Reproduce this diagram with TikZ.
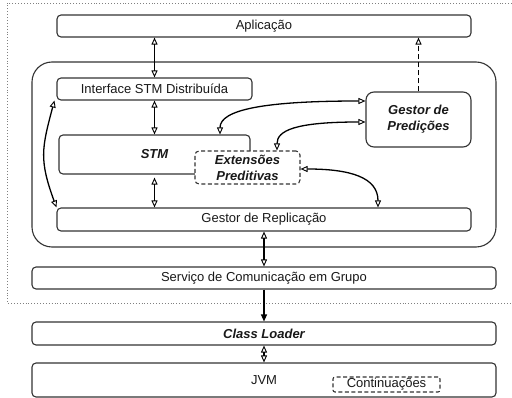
\documentclass[tikz,border=0pt]{standalone}
\usepackage{fontspec}
\setmainfont{Liberation Sans}
\usetikzlibrary{arrows.meta}

\definecolor{boxgray}{HTML}{333333}

\begin{document}
\begin{tikzpicture}[x=1pt, y=-1pt, font=\fontsize{13}{15}\selectfont,
		bfit/.style={font=\fontsize{13}{16}\selectfont\bfseries\itshape}]
	\useasboundingbox (0,0) rectangle (512,398);
	% moldura pontilhada
	\draw[gray, dotted, line width=0.9pt] (512,3) -- (7,3) -- (7,303) -- (512,303);
	\begin{scope}[every node/.style = {draw=boxgray, line width=1.1pt, rounded corners=4pt,
		fill=white, inner sep=0pt, text=black!90}]
		\node[minimum width=464pt, minimum height=185pt, rounded corners=20pt] (Nodo) at (264,154.5) {};
		\node[minimum width=414pt, minimum height=22pt] (App) at (264,26) {Aplicação};
		\node[minimum width=195pt, minimum height=22pt] (IfDist) at (154.5,89) {Interface STM Distribuída};
		\node[minimum width=105pt, minimum height=55pt, rounded corners=8pt, align=center, bfit]
			(GPred) at (418.5,119.5) {Gestor de\\Predições};
		\node[minimum width=191pt, minimum height=39pt, bfit] (Stm) at (154.5,154.5) {STM};
		\node[minimum width=105pt, minimum height=33pt, dashed, dash pattern=on 4pt off 2.5pt, align=center, bfit]
			(Ext) at (247.5,167.5) {Extensões\\Preditivas};
		\node[minimum width=414pt, minimum height=23pt] (Repl) at (264,219.5) {Gestor de Replicação};
		\node[minimum width=464pt, minimum height=22pt] (Gcs) at (264,278) {Serviço de Comunicação em Grupo};
		\node[minimum width=464pt, minimum height=23pt, bfit] (Cl) at (264,333.5) {Class Loader};
		\node[minimum width=464pt, minimum height=34pt] (Jvm) at (264,380) {JVM};
		\node[minimum width=107pt, minimum height=15pt, dashed, dash pattern=on 4pt off 2.5pt,
			rounded corners=2pt] (Cont) at (386.5,384.5) {Continuações};
	\end{scope}
	\begin{scope}[>={Triangle[open, length=7pt, width=6pt, line width=0.9pt]},
			conn/.style={draw=black, line width=1.3pt},
			every edge/.style={conn}]
		\path [<->] (IfDist.north |- App.south) edge (IfDist.north);
		\path [<->] (IfDist.south) edge (Stm.north);
		\path [<->] ([yshift=-3pt]Stm.south) edge (Stm.south |- Repl.north);
		\path [<->] (Repl.south) edge (Gcs.north);
		\path [-{Triangle[length=7pt, width=6pt]}] (Gcs.south) edge (Cl.north);
		\path [<->] (Cl.south) edge (Jvm.north);
		\path [->] (GPred.north) edge[dash pattern=on 5pt off 3pt] (GPred.north |- App.south);
		\draw [conn, <->] ([yshift=18.5pt]GPred.west)
			to[out=180, in=90, out distance=100pt, in distance=25pt] ([xshift=65.5pt]Stm.north);
		\draw [conn, <->] ([yshift=-2.5pt]GPred.west)
			to[out=180, in=90, out distance=70pt, in distance=20pt] ([xshift=29.5pt]Ext.north);
		\draw [conn, <->] ([yshift=-1.5pt]Ext.east)
			to[out=0, in=90, out distance=50pt, in distance=30pt] ([xshift=114pt]Repl.north);
		\draw [conn, <->] ([xshift=-2pt]IfDist.south west)
			to[out=-105, in=110, looseness=1.2] (Repl.north west);
	\end{scope}
\end{tikzpicture}
\end{document}
